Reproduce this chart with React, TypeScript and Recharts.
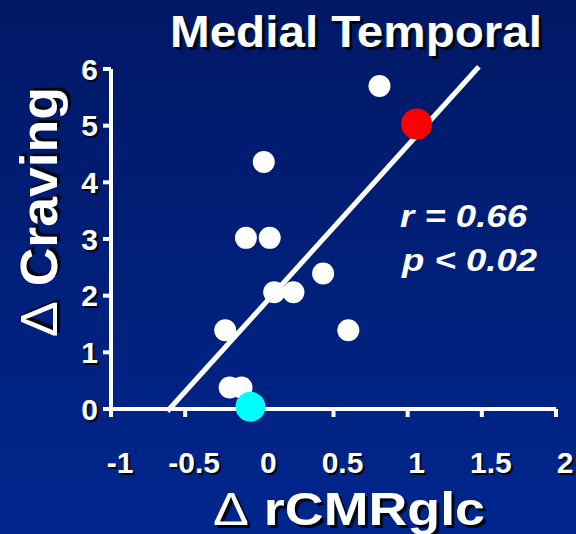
import React from "react";
import { ScatterChart, Scatter, XAxis, YAxis, ReferenceLine, Label } from "recharts";

const xTicks = [-1, -0.5, 0, 0.5, 1, 1.5, 2];
const yTicks = [0, 1, 2, 3, 4, 5, 6];

const whiteX = [0.81, 0.03, -0.09, 0.07, 0.43, 0.1, 0.23, -0.23, 0.6, -0.2, -0.12];
const whiteY = [5.7, 4.36, 3.02, 3.02, 2.39, 2.06, 2.06, 1.39, 1.39, 0.38, 0.38];
const redX = [1.06];
const redY = [5.03];
const cyanX = [-0.06];
const cyanY = [0.04];
const fitX = [-0.62, 1.48];
const fitY = [-0.04, 6.04];

const whiteData = whiteX.map((x, i) => ({ x, y: whiteY[i] }));
const redData = redX.map((x, i) => ({ x, y: redY[i] }));
const cyanData = cyanX.map((x, i) => ({ x, y: cyanY[i] }));

const FONT = "'Liberation Sans', Arial, sans-serif";
const SHADOW = "#000714";

const ShadowText = (p: any) => {
  const { x, y, children, sh = 2.5, ...rest } = p;
  return (
    <g>
      <text x={x + sh} y={y + sh} fill={SHADOW} {...rest}>{children}</text>
      <text x={x} y={y} fill="#ffffff" {...rest}>{children}</text>
    </g>
  );
};

const YTick = (props: any) => {
  const { x, y, payload } = props;
  return (
    <ShadowText x={x - 3} y={y + 10.5} textAnchor="end" fontFamily={FONT} fontWeight="bold" fontSize={30} sh={2}>
      {String(payload.value)}
    </ShadowText>
  );
};

const XTick = (props: any) => {
  const { x, y, payload } = props;
  return (
    <ShadowText x={x + 9} y={y + 54} textAnchor="middle" fontFamily={FONT} fontWeight="bold" fontSize={30} sh={2}>
      {String(payload.value)}
    </ShadowText>
  );
};

const dot = (r: number, color: string) => (props: any) => (
  <circle cx={props.cx} cy={props.cy} r={r} fill={color} />
);

const XLabel = () => (
  <ShadowText x={213} y={525} fontFamily={FONT} fontWeight="bold" fontSize={46} textLength={272} lengthAdjust="spacingAndGlyphs" sh={3}>
    <tspan fontWeight="normal">Δ</tspan> rCMRglc
  </ShadowText>
);

const YLabel = () => (
  <g transform="rotate(-90, 57, 212)">
    <ShadowText x={57} y={212} textAnchor="middle" fontFamily={FONT} fontWeight="bold" fontSize={52} textLength={250} lengthAdjust="spacingAndGlyphs" sh={3}>
      <tspan fontWeight="normal">Δ</tspan> Craving
    </ShadowText>
  </g>
);

export default function App() {
  return (
    <div
      style={{
        position: "absolute",
        left: 0,
        top: 0,
        width: 576,
        height: 534,
        background: "linear-gradient(to bottom, #001865 0%, #00268d 100%)",
        overflow: "hidden",
      }}
    >
      <ScatterChart width={576} height={534} margin={{ top: 69, right: 20, bottom: 65, left: 51 }}>
        <XAxis
          type="number"
          dataKey="x"
          domain={[-1, 2]}
          ticks={xTicks}
          interval={0}
          height={60}
          axisLine={{ stroke: "#ffffff", strokeWidth: 4 }}
          tickLine={{ stroke: "#ffffff", strokeWidth: 4 }}
          tickSize={8}
          tick={<XTick />}
        >
          <Label content={<XLabel />} />
        </XAxis>
        <YAxis
          type="number"
          dataKey="y"
          domain={[0, 6]}
          ticks={yTicks}
          interval={0}
          width={60}
          axisLine={{ stroke: "#ffffff", strokeWidth: 4 }}
          tickLine={{ stroke: "#ffffff", strokeWidth: 4 }}
          tickSize={8}
          tick={<YTick />}
        >
          <Label content={<YLabel />} />
        </YAxis>
        <Scatter data={whiteData} fill="#ffffff" shape={dot(11, "#ffffff")} isAnimationActive={false} />
        <Scatter data={redData} fill="#ff0000" shape={dot(15.5, "#ff0000")} isAnimationActive={false} />
        <Scatter data={cyanData} fill="#00ffff" shape={dot(15, "#00ffff")} isAnimationActive={false} />
        <ReferenceLine
          segment={[
            { x: fitX[0], y: fitY[0] },
            { x: fitX[1], y: fitY[1] },
          ]}
          ifOverflow="visible"
          stroke="#ffffff"
          strokeWidth={5}
        />
      </ScatterChart>
      <svg
        width={576}
        height={534}
        style={{ position: "absolute", left: 0, top: 0, pointerEvents: "none" }}
      >
        <ShadowText x={170} y={47} fontFamily={FONT} fontWeight="bold" fontSize={44} textLength={372} lengthAdjust="spacingAndGlyphs" sh={3}>
          Medial Temporal
        </ShadowText>
        <text x={400} y={227} fill="#ffffff" fontFamily={FONT} fontWeight="bold" fontStyle="italic" fontSize={32} textLength={127} lengthAdjust="spacingAndGlyphs">
          r = 0.66
        </text>
        <text x={402} y={271} fill="#ffffff" fontFamily={FONT} fontWeight="bold" fontStyle="italic" fontSize={32} textLength={135} lengthAdjust="spacingAndGlyphs">
          p &lt; 0.02
        </text>
      </svg>
    </div>
  );
}
